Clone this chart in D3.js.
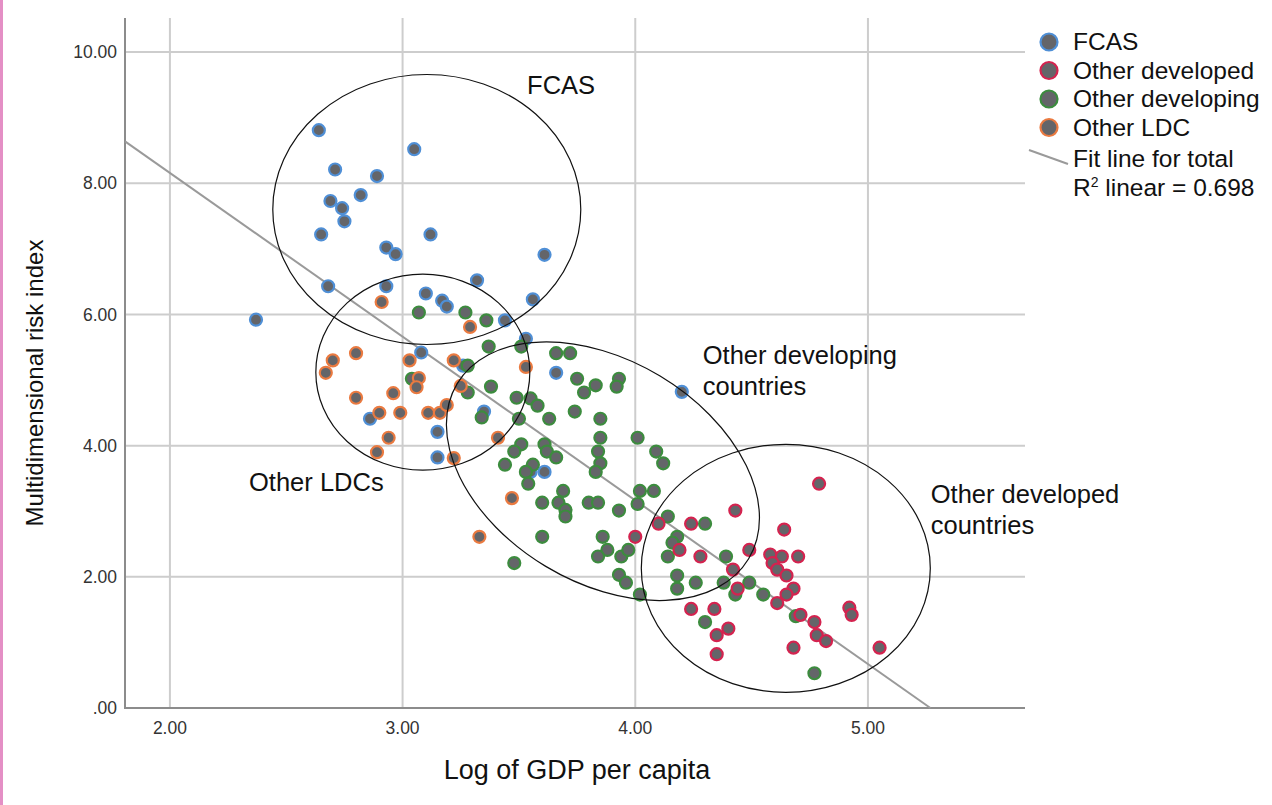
<!DOCTYPE html>
<html>
<head>
<meta charset="utf-8">
<script src="https://cdn.jsdelivr.net/npm/d3@7/dist/d3.min.js"></script>
<style>
body { margin: 0; background: #fff; }
svg { display: block; font-family: "Liberation Sans", Arial, sans-serif; }
.tick-label { font-size: 17.5px; fill: #333; }
.axis-title { font-size: 24px; fill: #111; }
.x-title { font-size: 27px; }
.note { font-size: 25.5px; fill: #111; }
.legend text { font-size: 24.5px; fill: #111; }
</style>
</head>
<body>
<svg id="chart" width="1272" height="805"></svg>
<script>

// groups, legend order
const groups = ["FCAS", "Other developed", "Other developing", "Other LDC"];

// [log GDP per capita, risk index]
const fcas = [
  [2.64, 8.81], [3.05, 8.52], [2.71, 8.21], [2.89, 8.11], [2.82, 7.82], [2.69, 7.73],
  [2.74, 7.62], [2.75, 7.42], [2.65, 7.22], [3.12, 7.22], [2.93, 7.02], [2.97, 6.92],
  [3.61, 6.91], [3.32, 6.52], [2.68, 6.43], [2.93, 6.43], [3.10, 6.32], [3.17, 6.21],
  [3.19, 6.12], [3.56, 6.23], [3.44, 5.91], [2.37, 5.92], [3.53, 5.63], [3.08, 5.42],
  [3.26, 5.22], [3.66, 5.11], [4.20, 4.82], [3.35, 4.52], [2.86, 4.41], [3.15, 4.21],
  [3.15, 3.82], [3.61, 3.60], [3.55, 3.60]
];

const otherDeveloped = [
  [4.00, 2.61], [4.10, 2.81], [4.24, 2.81], [4.43, 3.01], [4.79, 3.42], [4.64, 2.72],
  [4.19, 2.41], [4.28, 2.31], [4.49, 2.41], [4.58, 2.34], [4.63, 2.31], [4.70, 2.31],
  [4.59, 2.21], [4.61, 2.11], [4.42, 2.11], [4.65, 2.02], [4.68, 1.82], [4.65, 1.73],
  [4.61, 1.60], [4.44, 1.82], [4.24, 1.51], [4.34, 1.51], [4.40, 1.21], [4.35, 1.11],
  [4.35, 0.82], [4.71, 1.42], [4.77, 1.31], [4.78, 1.11], [4.82, 1.02], [4.68, 0.92],
  [4.92, 1.53], [4.93, 1.42], [5.05, 0.92]
];

const otherDeveloping = [
  [3.07, 6.03], [3.27, 6.03], [3.36, 5.91], [3.37, 5.51], [3.51, 5.51], [3.66, 5.41],
  [3.72, 5.41], [3.28, 5.22], [3.04, 5.02], [3.28, 4.81], [3.38, 4.90], [3.75, 5.02],
  [3.83, 4.92], [3.78, 4.81], [3.93, 5.02], [3.92, 4.90], [3.49, 4.73], [3.55, 4.72],
  [3.58, 4.61], [3.34, 4.43], [3.50, 4.41], [3.63, 4.41], [3.74, 4.52], [3.85, 4.41],
  [3.85, 4.12], [4.01, 4.12], [3.51, 4.02], [3.48, 3.91], [3.61, 4.02], [3.62, 3.91],
  [3.66, 3.82], [3.84, 3.91], [3.85, 3.73], [3.83, 3.60], [4.09, 3.91], [4.12, 3.73],
  [3.44, 3.71], [3.56, 3.71], [3.53, 3.60], [3.54, 3.42], [3.69, 3.31], [3.67, 3.13],
  [3.60, 3.13], [3.70, 3.02], [3.70, 2.92], [3.80, 3.13], [3.84, 3.13], [3.93, 3.01],
  [4.02, 3.31], [4.08, 3.31], [4.01, 3.11], [4.14, 2.92], [4.18, 2.61], [4.16, 2.52],
  [4.14, 2.31], [4.30, 2.81], [3.60, 2.61], [3.86, 2.61], [3.88, 2.41], [3.84, 2.31],
  [3.94, 2.31], [3.97, 2.41], [3.48, 2.21], [3.93, 2.03], [3.96, 1.91], [4.02, 1.73],
  [4.18, 2.02], [4.18, 1.82], [4.26, 1.91], [4.38, 1.91], [4.49, 1.91], [4.39, 2.31],
  [4.43, 1.73], [4.55, 1.73], [4.30, 1.31], [4.69, 1.40], [4.77, 0.53]
];

const otherLDC = [
  [2.91, 6.19], [3.29, 5.81], [2.70, 5.30], [2.80, 5.41], [2.67, 5.11], [3.03, 5.30],
  [3.22, 5.30], [3.07, 5.03], [3.06, 4.89], [3.25, 4.91], [2.80, 4.73], [2.96, 4.80],
  [2.90, 4.50], [2.99, 4.50], [3.11, 4.50], [3.16, 4.50], [3.19, 4.62], [2.94, 4.12],
  [2.89, 3.90], [3.22, 3.81], [3.53, 5.20], [3.41, 4.12], [3.47, 3.20], [3.33, 2.61]
];

// fit line for total
const fitIntercept = 13.15;
const fitSlope = -2.496;
const rSquared = 0.698;

const xTicks = [2, 3, 4, 5];
const yTicks = [0, 2, 4, 6, 8, 10];

// hand-drawn regions: centre in data units, label lines
const regionCx = [3.104, 3.087, 3.861, 4.647];
const regionCy = [7.60, 5.12, 3.61, 2.13];
const regionLabels = [["FCAS"], ["Other LDCs"], ["Other developing", "countries"], ["Other developed", "countries"]];
const labelX = [3.535, 2.34, 4.29, 5.27];
const labelY = [9.36, 3.31, 5.24, 3.125];

// ---- layout / styles ----
const W = 1272, H = 805;
const m = { left: 125, top: 18, right: 247, bottom: 97 };
const stroke = {
  "FCAS": "#4f8fd6",
  "Other developed": "#d4234f",
  "Other developing": "#3c8c3e",
  "Other LDC": "#ea7a40"
};
const dotFill = "#646569";
const ellipseR = [[154, 135, 0], [107, 98, 0], [170, 111, 31], [144.5, 124, 0]];

const svg = d3.select("#chart");

const x = d3.scaleLinear().domain([1.807, 5.675]).range([m.left, W - m.right]);
const y = d3.scaleLinear().domain([0, 10.52]).range([H - m.bottom, m.top]);

// pink strip on the left edge
svg.append("rect").attr("x", 0).attr("y", 0).attr("width", 3).attr("height", H).attr("fill", "#e48fc5");

// grid
const grid = svg.append("g");
grid.selectAll("line.v").data(xTicks).join("line")
  .attr("x1", d => x(d)).attr("x2", d => x(d))
  .attr("y1", y.range()[1]).attr("y2", y.range()[0])
  .attr("stroke", "#cdcdcd").attr("stroke-width", 2);
grid.selectAll("line.h").data(yTicks.filter(d => d > 0)).join("line")
  .attr("x1", x.range()[0]).attr("x2", x.range()[1])
  .attr("y1", d => y(d)).attr("y2", d => y(d))
  .attr("stroke", "#cdcdcd").attr("stroke-width", 2);

// axes lines
svg.append("line")
  .attr("x1", x.range()[0]).attr("x2", x.range()[0])
  .attr("y1", y.range()[1]).attr("y2", y.range()[0])
  .attr("stroke", "#8c8c8c").attr("stroke-width", 2);
svg.append("line")
  .attr("x1", x.range()[0] - 1).attr("x2", x.range()[1])
  .attr("y1", y(0)).attr("y2", y(0))
  .attr("stroke", "#8c8c8c").attr("stroke-width", 2);

const fmt = d => d === 0 ? ".00" : d3.format(".2f")(d);

svg.append("g").selectAll("text").data(yTicks).join("text")
  .attr("class", "tick-label")
  .attr("x", x.range()[0] - 8).attr("y", d => y(d))
  .attr("dy", "0.35em").attr("text-anchor", "end")
  .text(fmt);
svg.append("g").selectAll("text").data(xTicks).join("text")
  .attr("class", "tick-label")
  .attr("x", d => x(d)).attr("y", y(0) + 20)
  .attr("dy", "0.35em").attr("text-anchor", "middle")
  .text(fmt);

svg.append("text").attr("class", "axis-title x-title")
  .attr("x", (x.range()[0] + x.range()[1]) / 2 + 2).attr("y", 779)
  .attr("text-anchor", "middle").text("Log of GDP per capita");
svg.append("text").attr("class", "axis-title")
  .attr("transform", `translate(43, ${(y.range()[0] + y.range()[1]) / 2 + 20}) rotate(-90)`)
  .attr("text-anchor", "middle").text("Multidimensional risk index");

// fit line
const xEnd = -fitIntercept / fitSlope;
svg.append("line")
  .attr("x1", x(x.domain()[0])).attr("y1", y(fitIntercept + fitSlope * x.domain()[0]))
  .attr("x2", x(xEnd)).attr("y2", y(0))
  .attr("stroke", "#9a9a9a").attr("stroke-width", 2);

// points
const series = [
  { name: "FCAS", pts: fcas },
  { name: "Other developing", pts: otherDeveloping },
  { name: "Other LDC", pts: otherLDC },
  { name: "Other developed", pts: otherDeveloped }
];
series.forEach(s => {
  svg.append("g").selectAll("circle").data(s.pts).join("circle")
    .attr("cx", d => x(d[0])).attr("cy", d => y(d[1]))
    .attr("r", 6)
    .attr("fill", dotFill)
    .attr("stroke", stroke[s.name]).attr("stroke-width", 2.2);
});

// region ellipses + notes
svg.append("g").selectAll("ellipse").data(regionCx).join("ellipse")
  .attr("cx", 0).attr("cy", 0)
  .attr("rx", (d, i) => ellipseR[i][0]).attr("ry", (d, i) => ellipseR[i][1])
  .attr("transform", (d, i) => `translate(${x(d)},${y(regionCy[i])}) rotate(${ellipseR[i][2]})`)
  .attr("fill", "none").attr("stroke", "#111").attr("stroke-width", 1.2);

regionLabels.forEach((lines, i) => {
  const t = svg.append("text").attr("class", "note")
    .attr("x", x(labelX[i])).attr("y", y(labelY[i]));
  lines.forEach((ln, j) => {
    t.append("tspan").attr("x", x(labelX[i])).attr("dy", j === 0 ? 0 : 31).text(ln);
  });
});

// legend
const lg = svg.append("g").attr("class", "legend");
groups.forEach((g, i) => {
  const cy = 42 + i * 28.5;
  lg.append("circle").attr("cx", 1049).attr("cy", cy).attr("r", 8.5)
    .attr("fill", dotFill).attr("stroke", stroke[g]).attr("stroke-width", 2.2);
  lg.append("text").attr("x", 1073).attr("y", cy + 8).text(g);
});
lg.append("line").attr("x1", 1029).attr("y1", 150).attr("x2", 1068).attr("y2", 164)
  .attr("stroke", "#9a9a9a").attr("stroke-width", 2);
lg.append("text").attr("x", 1073).attr("y", 167).text("Fit line for total");
const r2 = lg.append("text").attr("x", 1073).attr("y", 196);
r2.append("tspan").text("R");
r2.append("tspan").attr("font-size", 14).attr("dy", -9).text("2");
r2.append("tspan").attr("dy", 9).text(" linear = " + rSquared.toFixed(3));

</script>
</body>
</html>
